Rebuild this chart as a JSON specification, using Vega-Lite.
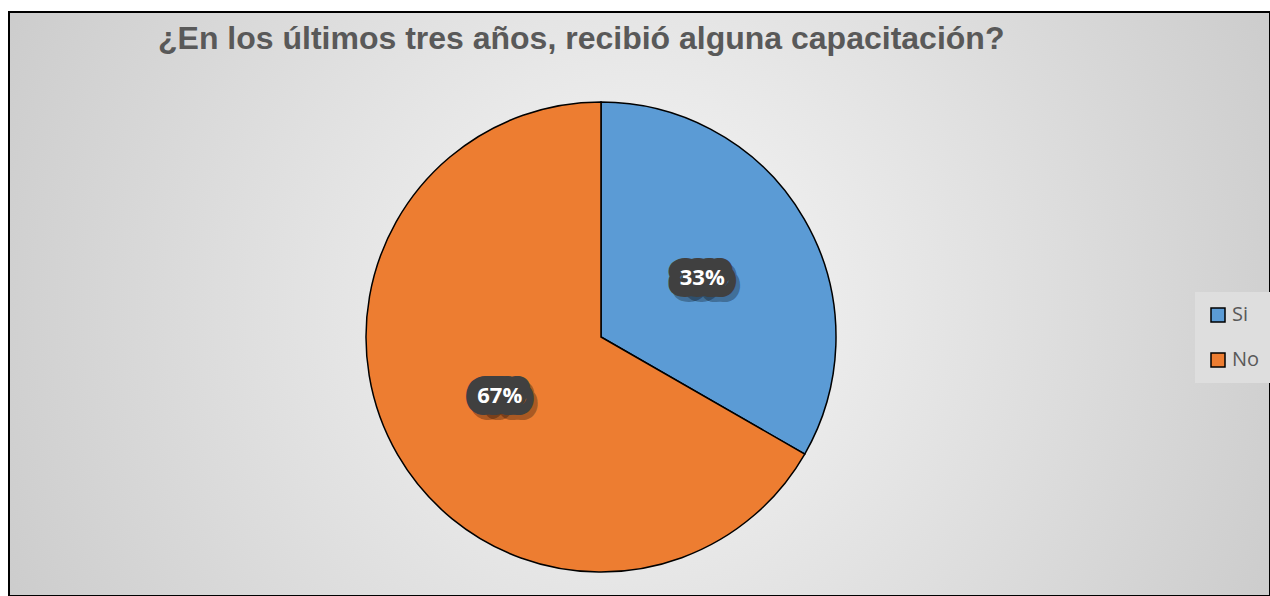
{
  "$schema": "https://vega.github.io/schema/vega-lite/v6.json",
  "width": 1270,
  "height": 596,
  "autosize": {"type": "fit", "contains": "padding"},
  "padding": {"left": 9, "top": 12, "right": 0, "bottom": 0},
  "background": "white",
  "view": {
    "fill": {
      "gradient": "radial",
      "x1": 0.5, "y1": 0.5, "r1": 0,
      "x2": 0.5, "y2": 0.5, "r2": 0.66,
      "stops": [
        {"offset": 0, "color": "#f7f7f7"},
        {"offset": 1, "color": "#c4c4c4"}
      ]
    },
    "stroke": "black",
    "strokeWidth": 2
  },
  "title": {
    "text": "¿En los últimos tres años, recibió alguna capacitación?",
    "frame": "group",
    "anchor": "start",
    "offset": -44,
    "dx": 149,
    "font": "Liberation Sans",
    "fontSize": 32,
    "fontWeight": "bold",
    "color": "#595959"
  },
  "data": {
    "values": [
      {"answer": "Si", "value": 33.3, "label": "33%", "idx": 1},
      {"answer": "No", "value": 66.7, "label": "67%", "idx": 2}
    ]
  },
  "encoding": {
    "theta": {"field": "value", "type": "quantitative", "stack": true},
    "order": {"field": "idx", "type": "quantitative"}
  },
  "layer": [
    {
      "mark": {"type": "arc", "outerRadius": 235, "stroke": "black", "strokeWidth": 1.5, "xOffset": -38.5, "yOffset": 33},
      "encoding": {
        "color": {
          "field": "answer",
          "type": "nominal",
          "scale": {"domain": ["Si", "No"], "range": ["#5B9BD5", "#ED7D31"]},
          "legend": {
            "title": null,
            "orient": "none",
            "legendX": 1186,
            "legendY": 280,
            "fillColor": "#dedede",
            "padding": 13,
            "symbolType": "square",
            "symbolSize": 196,
            "symbolStrokeColor": "black",
            "symbolStrokeWidth": 1.5,
            "symbolOpacity": 1,
            "labelFont": "Open Sans",
            "labelFontSize": 20,
            "labelColor": "#595959",
            "labelOffset": 4,
            "rowPadding": 25
          }
        }
      }
    },
    {
      "mark": {"type": "text", "radius": 117, "dx": -34.5, "dy": 38, "font": "Open Sans", "fontSize": 22, "fontWeight": "bold", "fill": "black", "fillOpacity": 0.3, "stroke": "black", "strokeOpacity": 0.3, "strokeWidth": 24, "strokeJoin": "round"},
      "encoding": {"text": {"field": "label"}}
    },
    {
      "mark": {"type": "text", "radius": 117, "dx": -38.5, "dy": 33, "font": "Open Sans", "fontSize": 22, "fontWeight": "bold", "fill": "#404040", "stroke": "#404040", "strokeWidth": 24, "strokeJoin": "round"},
      "encoding": {"text": {"field": "label"}}
    },
    {
      "mark": {"type": "text", "radius": 117, "dx": -38.5, "dy": 33, "font": "Open Sans", "fontSize": 22, "fontWeight": "bold", "fill": "white"},
      "encoding": {"text": {"field": "label"}}
    }
  ]
}
